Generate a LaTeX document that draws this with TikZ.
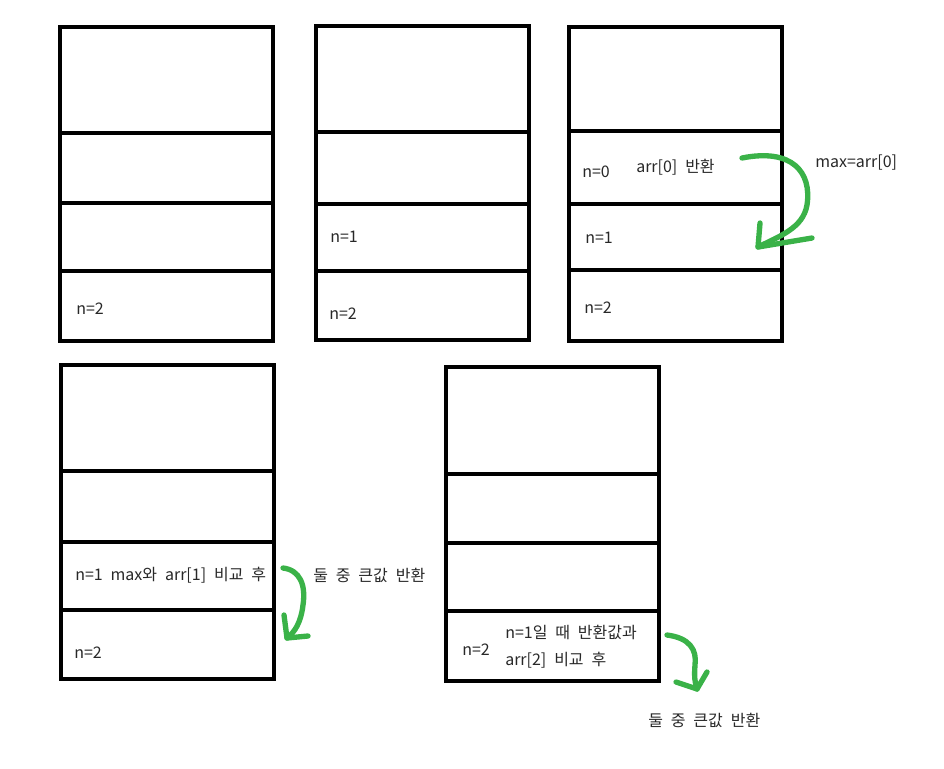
\documentclass[tikz,border=0pt]{standalone}
\usepackage{fontspec}
\setmainfont[WordSpace=2.2]{Noto Sans CJK KR}
\definecolor{penGreen}{RGB}{58,178,72}
\definecolor{inkText}{RGB}{40,40,40}
\tikzset{
  frame/.style={line width=3pt},
  lbl/.style={anchor=west, inner sep=0pt, text=inkText, font=\fontsize{12}{14}\selectfont},
  pen/.style={penGreen, line width=4pt, line cap=round, line join=round}
}
\begin{document}
\begin{tikzpicture}[x=0.75pt, y=-0.75pt]
\useasboundingbox (0,0) rectangle (944,768);
% five call stacks: left, top, first/second/third divider
\foreach \l/\t/\a/\b/\c in {60/27/133/203/271, 316/26/132/204/271, 569/27/131/204/270,
                            61/365/471/542/610, 446/367/474/543/611}{
  \draw[frame] (\l,\t) rectangle +(213,314);
  \draw[frame] (\l,\a) -- +(213,0);
  \draw[frame] (\l,\b) -- +(213,0);
  \draw[frame] (\l,\c) -- +(213,0);
}
% labels
\node[lbl] (s1n2) at (76,309) {n=2};
\node[lbl] (s2n1) at (330,237) {n=1};
\node[lbl] (s2n2) at (329,314) {n=2};
\node[lbl] (s3n0) at (582,172) {n=0};
\node[lbl] (s3ret) at (636,167) {arr[0] 반환};
\node[lbl] (s3max) at (815,163) {max=arr[0]};
\node[lbl] (s3n1) at (585,238) {n=1};
\node[lbl] (s3n2) at (584,308) {n=2};
\node[lbl] (s4n1) at (75,575) {n=1 max와 arr[1] 비교 후};
\node[lbl] (s4ret) at (313,575) {둘 중 큰값 반환};
\node[lbl] (s4n2) at (74,653) {n=2};
\node[lbl] (s5n2) at (462,650) {n=2};
\node[lbl] (s5cmp) at (505,632) {n=1일 때 반환값과};
\node[lbl] (s5arr) at (505,660) {arr[2] 비교 후};
\node[lbl] (s5ret) at (648,720) {둘 중 큰값 반환};
% green arrows
\coordinate (tipA) at (758,247);
\draw[pen] (742,158) .. controls (792,148) and (812,172) .. (807,205)
  .. controls (803,228) and (780,236) .. (tipA);
\draw[pen] (760,223) -- (tipA) -- (812,238);
\coordinate (tipB) at (287,638);
\draw[pen] (283,568) .. controls (300,570) and (306,585) .. (303,605)
  .. controls (301,622) and (295,632) .. (tipB);
\draw[pen] (284,615) -- (tipB) -- (308,636);
\coordinate (tipC) at (697,689);
\draw[pen] (667,635) .. controls (690,638) and (697,650) .. (695,665)
  .. controls (694,677) and (695,683) .. (tipC);
\draw[pen] (676,682) -- (tipC) -- (707,672);
\end{tikzpicture}
\end{document}
